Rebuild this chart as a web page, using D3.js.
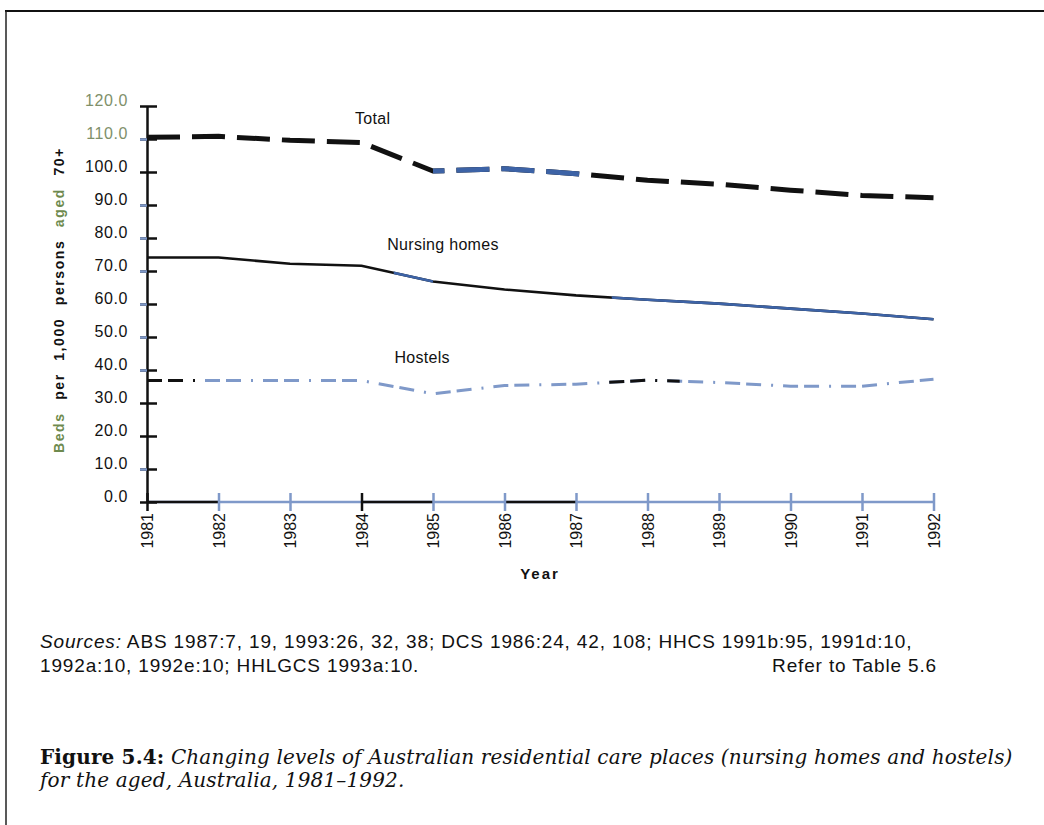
<!DOCTYPE html>
<meta charset="utf-8">
<style>
    body { margin: 0; background: #fff; }
    svg { display: block; font-family: "Liberation Sans", Arial, sans-serif; }
    .axis text { font-size: 16px; fill: #111; }
    .caption { font-family: "DejaVu Serif", "Liberation Serif", serif; }
</style>
<svg width="1044" height="825"></svg>
<script src="https://d3js.org/d3.v7.min.js"></script>
<script>

    // values (beds per 1,000 persons aged 70+)
    var years = [1981, 1982, 1983, 1984, 1985, 1986, 1987, 1988, 1989, 1990, 1991, 1992];
    var total = [110.5, 110.8, 109.6, 108.9, 100.3, 101.0, 99.5, 97.5, 96.3, 94.5, 92.9, 92.2];
    var nursing = [74.1, 74.1, 72.2, 71.6, 66.8, 64.4, 62.6, 61.3, 60.1, 58.6, 57.1, 55.4];
    var hostels = [36.8, 36.8, 36.8, 36.8, 32.8, 35.3, 35.7, 36.9, 36.2, 35.1, 35.1, 37.2];
    var yTicks = [0, 10, 20, 30, 40, 50, 60, 70, 80, 90, 100, 110, 120];

    var svg = d3.select("svg");

    var x = d3.scaleLinear().domain([1981, 1992]).range([147, 933.5]),
        y = d3.scaleLinear().domain([0, 120]).range([502, 106]);

    var blue = "#3d63a6", paleBlue = "#7f99c9", green = "#6e8a4e";

    // frame round the figure
    svg.append("line").attr("x1", 5).attr("x2", 1044).attr("y1", 11).attr("y2", 11)
        .attr("stroke", "#111").attr("stroke-width", 2);
    svg.append("line").attr("x1", 6).attr("x2", 6).attr("y1", 11).attr("y2", 825)
        .attr("stroke", "#222").attr("stroke-width", 1.5);

    // clip paths for the recoloured stretches of each line
    var defs = svg.append("defs");
    function clip(id, ranges) {
        var cp = defs.append("clipPath").attr("id", id);
        ranges.forEach(function(r) {
            cp.append("rect").attr("x", x(r[0])).attr("width", x(r[1]) - x(r[0]))
                .attr("y", 0).attr("height", 825);
        });
        return "url(#" + id + ")";
    }

    var line = d3.line()
        .x(function(d, i) { return x(years[i]); })
        .y(function(d) { return y(d); });

    function series(values, base, over, ranges, id, width, dash) {
        var g = svg.append("g").attr("fill", "none")
            .attr("stroke-width", width).attr("stroke-dasharray", dash);
        g.append("path").attr("d", line(values)).attr("stroke", base);
        g.append("path").attr("d", line(values)).attr("stroke", over)
            .attr("clip-path", clip(id, ranges));
    }

    // x axis
    var xAxis = svg.append("g").attr("class", "axis")
        .attr("transform", "translate(0," + y(0) + ")")
        .call(d3.axisBottom(x).tickValues(years).tickFormat(d3.format("d")).tickSizeOuter(0));
    xAxis.select(".domain").remove();
    xAxis.insert("line", ":first-child").attr("x1", x(1981)).attr("x2", x(1992))
        .attr("stroke", paleBlue).attr("stroke-width", 2.5);
    [[1981, 1982], [1984, 1985], [1986, 1987]].forEach(function(r) {
        xAxis.append("line").attr("x1", x(r[0])).attr("x2", x(r[1]))
            .attr("stroke", "#111").attr("stroke-width", 2.5);
    });
    xAxis.selectAll(".tick line").attr("y1", -9).attr("y2", 9).attr("stroke-width", 2.5)
        .attr("stroke", function(d) { return d == 1981 || d == 1984 ? "#111" : paleBlue; });
    xAxis.selectAll(".tick").raise();
    xAxis.selectAll(".tick text")
        .attr("transform", "rotate(-90)")
        .attr("text-anchor", "end")
        .attr("x", -11).attr("y", 0).attr("dy", "0.35em")
        .style("font-family", "Liberation Sans, Arial, sans-serif");

    svg.append("text")
        .attr("x", 540).attr("y", 579)
        .attr("text-anchor", "middle")
        .attr("font-size", "15px").attr("font-weight", "bold")
        .attr("letter-spacing", "2px").attr("fill", "#111")
        .text("Year");

    // y axis
    var yAxis = svg.append("g").attr("class", "axis")
        .attr("transform", "translate(" + x(1981) + ",0)")
        .call(d3.axisLeft(y).tickValues(yTicks).tickFormat(d3.format(".1f")).tickSizeOuter(0));
    yAxis.select(".domain").attr("stroke", "#111").attr("stroke-width", 2.5);
    yAxis.selectAll(".tick line").attr("x1", -7).attr("x2", 10)
        .attr("stroke", "#111").attr("stroke-width", 2.5);
    yAxis.selectAll(".tick").filter(function(d) { return [10, 40, 50, 60, 70, 80, 90, 110].indexOf(d) >= 0; })
        .append("line").attr("x1", -7).attr("x2", 0).attr("stroke", paleBlue).attr("stroke-width", 2.5);
    yAxis.selectAll(".tick text")
        .attr("x", -19).attr("dy", "-0.05em")
        .attr("letter-spacing", "0.6px")
        .style("font-family", "Liberation Sans, Arial, sans-serif")
        .style("fill", function(d) { return d >= 110 ? "#80906a" : "#111"; });

    var yTitle = svg.append("text")
        .attr("transform", "translate(64,300) rotate(-90)")
        .attr("text-anchor", "middle")
        .attr("font-size", "14px").attr("font-weight", "bold")
        .attr("letter-spacing", "1.6px").attr("word-spacing", "7px")
        .attr("fill", "#111");
    yTitle.append("tspan").attr("fill", green).text("Beds");
    yTitle.append("tspan").text(" per 1,000 persons ");
    yTitle.append("tspan").attr("fill", green).text("aged");
    yTitle.append("tspan").text(" 70+");

    // the three lines
    series(hostels, paleBlue, "#111", [[1981, 1981.8], [1987.45, 1988.45]], "clipHostels", 3, "15,6,15,10,2,10");
    series(nursing, "#111", blue, [[1984.45, 1985], [1987.5, 1992.1]], "clipNursing", 2.6, null);
    series(total, "#111", blue, [[1985, 1987.1]], "clipTotal", 5, "33,12");

    // line labels
    var labels = [
        {text: "Total", year: 1983.91, value: 114.6},
        {text: "Nursing homes", year: 1984.36, value: 76.4},
        {text: "Hostels", year: 1984.46, value: 42.1}
    ];
    svg.selectAll(".label")
        .data(labels)
        .enter().append("text")
        .attr("class", "label")
        .attr("x", function(d) { return x(d.year); })
        .attr("y", function(d) { return y(d.value); })
        .attr("font-size", "16px").attr("letter-spacing", "0.3px").attr("fill", "#111")
        .text(function(d) { return d.text; });

    // sources note
    var src = svg.append("g").attr("font-size", "19px").attr("letter-spacing", "0.85px").attr("fill", "#111");
    var s1 = src.append("text").attr("x", 40).attr("y", 648);
    s1.append("tspan").attr("font-style", "italic").text("Sources:");
    s1.append("tspan").text(" ABS 1987:7, 19, 1993:26, 32, 38; DCS 1986:24, 42, 108; HHCS 1991b:95, 1991d:10,");
    src.append("text").attr("x", 40).attr("y", 672).text("1992a:10, 1992e:10; HHLGCS 1993a:10.");
    src.append("text").attr("x", 937).attr("y", 672).attr("text-anchor", "end").text("Refer to Table 5.6");

    // figure caption
    var cap = svg.append("g").attr("class", "caption").attr("font-size", "20px")
        .attr("letter-spacing", "0.15px").attr("fill", "#111");
    var c1 = cap.append("text").attr("x", 40).attr("y", 764);
    c1.append("tspan").attr("font-weight", "bold").text("Figure 5.4:");
    c1.append("tspan").attr("font-style", "italic")
        .text(" Changing levels of Australian residential care places (nursing homes and hostels)");
    cap.append("text").attr("x", 40).attr("y", 787).attr("font-style", "italic")
        .text("for the aged, Australia, 1981\u20131992.");

</script>
